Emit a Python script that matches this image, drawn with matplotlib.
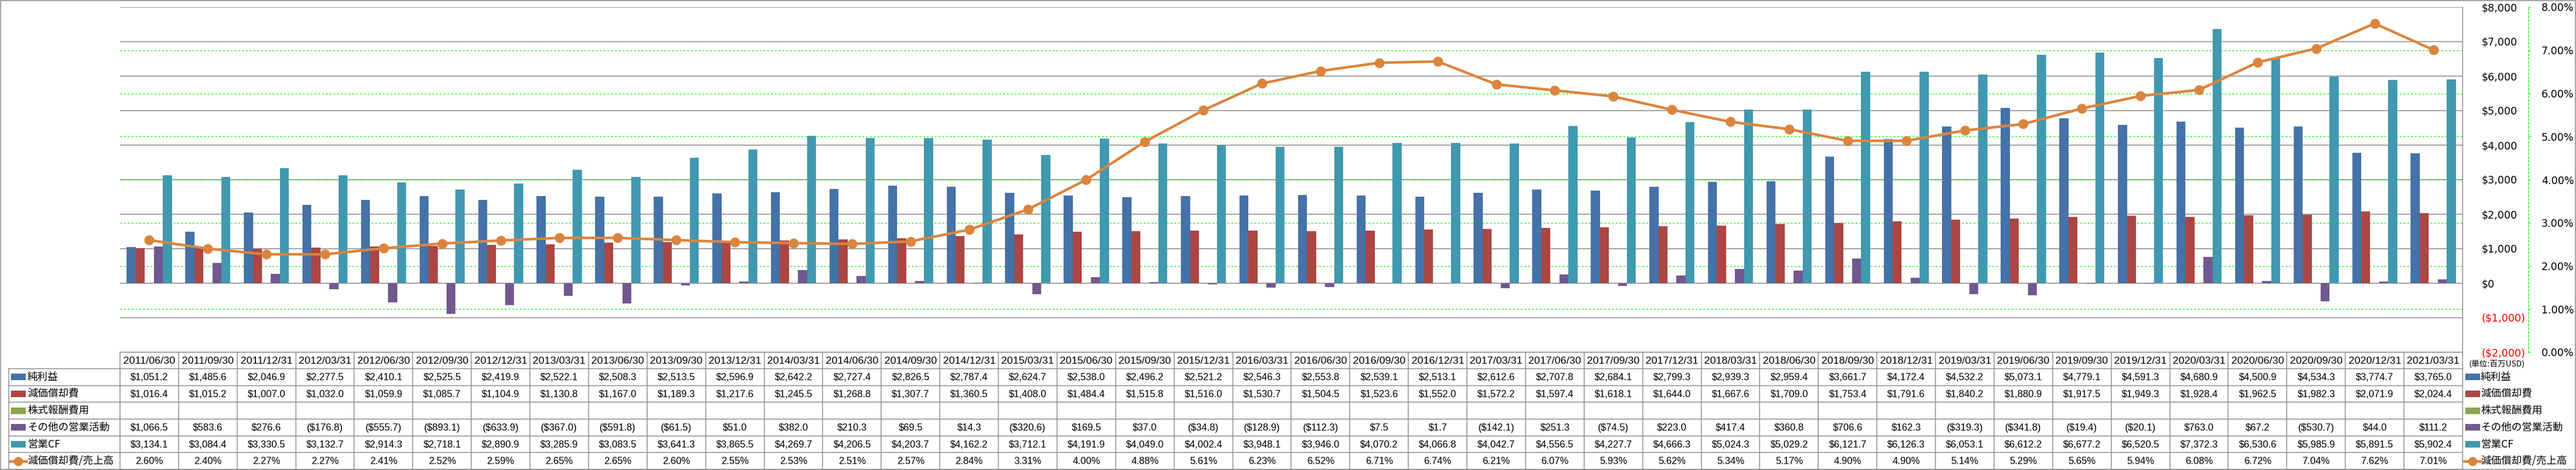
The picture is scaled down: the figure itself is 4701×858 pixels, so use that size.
import matplotlib
matplotlib.use('Agg')
import matplotlib.pyplot as plt
from matplotlib.patches import Rectangle
from matplotlib.lines import Line2D
import numpy as np

# quarterly data (million USD)
dates = ['2011/06/30', '2011/09/30', '2011/12/31',
         '2012/03/31', '2012/06/30', '2012/09/30', '2012/12/31',
         '2013/03/31', '2013/06/30', '2013/09/30', '2013/12/31',
         '2014/03/31', '2014/06/30', '2014/09/30', '2014/12/31',
         '2015/03/31', '2015/06/30', '2015/09/30', '2015/12/31',
         '2016/03/31', '2016/06/30', '2016/09/30', '2016/12/31',
         '2017/03/31', '2017/06/30', '2017/09/30', '2017/12/31',
         '2018/03/31', '2018/06/30', '2018/09/30', '2018/12/31',
         '2019/03/31', '2019/06/30', '2019/09/30', '2019/12/31',
         '2020/03/31', '2020/06/30', '2020/09/30', '2020/12/31',
         '2021/03/31']

net_income = [1051.2, 1485.6, 2046.9,
              2277.5, 2410.1, 2525.5, 2419.9,
              2522.1, 2508.3, 2513.5, 2596.9,
              2642.2, 2727.4, 2826.5, 2787.4,
              2624.7, 2538.0, 2496.2, 2521.2,
              2546.3, 2553.8, 2539.1, 2513.1,
              2612.6, 2707.8, 2684.1, 2799.3,
              2939.3, 2959.4, 3661.7, 4172.4,
              4532.2, 5073.1, 4779.1, 4591.3,
              4680.9, 4500.9, 4534.3, 3774.7,
              3765.0]

depreciation = [1016.4, 1015.2, 1007.0,
                1032.0, 1059.9, 1085.7, 1104.9,
                1130.8, 1167.0, 1189.3, 1217.6,
                1245.5, 1268.8, 1307.7, 1360.5,
                1408.0, 1484.4, 1515.8, 1516.0,
                1530.7, 1504.5, 1523.6, 1552.0,
                1572.2, 1597.4, 1618.1, 1644.0,
                1667.6, 1709.0, 1753.4, 1791.6,
                1840.2, 1880.9, 1917.5, 1949.3,
                1928.4, 1962.5, 1982.3, 2071.9,
                2024.4]

stock_comp = [None] * 40

other_ops = [1066.5, 583.6, 276.6,
             -176.8, -555.7, -893.1, -633.9,
             -367.0, -591.8, -61.5, 51.0,
             382.0, 210.3, 69.5, 14.3,
             -320.6, 169.5, 37.0, -34.8,
             -128.9, -112.3, 7.5, 1.7,
             -142.1, 251.3, -74.5, 223.0,
             417.4, 360.8, 706.6, 162.3,
             -319.3, -341.8, -19.4, -20.1,
             763.0, 67.2, -530.7, 44.0,
             111.2]

operating_cf = [3134.1, 3084.4, 3330.5,
                3132.7, 2914.3, 2718.1, 2890.9,
                3285.9, 3083.5, 3641.3, 3865.5,
                4269.7, 4206.5, 4203.7, 4162.2,
                3712.1, 4191.9, 4049.0, 4002.4,
                3948.1, 3946.0, 4070.2, 4066.8,
                4042.7, 4556.5, 4227.7, 4666.3,
                5024.3, 5029.2, 6121.7, 6126.3,
                6053.1, 6612.2, 6677.2, 6520.5,
                7372.3, 6530.6, 5985.9, 5891.5,
                5902.4]

dep_ratio = [2.60, 2.40, 2.27,
             2.27, 2.41, 2.52, 2.59,
             2.65, 2.65, 2.60, 2.55,
             2.53, 2.51, 2.57, 2.84,
             3.31, 4.00, 4.88, 5.61,
             6.23, 6.52, 6.71, 6.74,
             6.21, 6.07, 5.93, 5.62,
             5.34, 5.17, 4.90, 4.90,
             5.14, 5.29, 5.65, 5.94,
             6.08, 6.72, 7.04, 7.62,
             7.01]

bar_names = ['純利益', '減価償却費', '株式報酬費用', 'その他の営業活動', '営業CF']
bar_series = [net_income, depreciation, stock_comp, other_ops, operating_cf]
ratio_name = '減価償却費/売上高'
unit_text = '(単位:百万USD)'

colors = ['#4572A7', '#AA4643', '#89A54E', '#71588F', '#4198AF']
line_color = '#DB843D'
grid_gray = '#868686'
table_gray = '#8C8C8C'
green = '#00FF00'

CJK = 'Noto Sans CJK JP'
NUM = 'Liberation Sans'


def money(v, nd=1):
    if v is None:
        return ''
    s = '${:,.{}f}'.format(abs(v), nd)
    return '(' + s + ')' if v < 0 else s


W, H = 4701, 858
DPI = 100
fig = plt.figure(figsize=(W / DPI, H / DPI), dpi=DPI)
fig.patch.set_facecolor('white')

left, right, top, bottom = 219, 4494, 13, 643
ax = fig.add_axes([left / W, 1 - bottom / H, (right - left) / W, (bottom - top) / H])
ax2 = ax.twinx()

n = len(dates)
x = np.arange(n)
slot = 1 / 6.5
for k, (vals, c) in enumerate(zip(bar_series, colors)):
    if all(v is None for v in vals):
        continue
    v = np.array([np.nan if a is None else a for a in vals], float)
    ax.bar(x + (k - 2) * slot, v, width=slot, color=c, linewidth=0, zorder=2)

ax.set_xlim(-0.5, n - 0.5)
ax.set_ylim(-2000, 8000)
ax.set_xticks([])
yt = list(range(-2000, 8001, 1000))
ax.set_yticks(yt)
ax.set_yticklabels([money(v, 0) for v in yt])
ax.yaxis.tick_right()
ax.tick_params(axis='y', which='both', left=False, right=False,
               labelleft=False, labelright=True, length=0, pad=25, labelsize=13.5)
for lab, v in zip(ax.get_yticklabels(), yt):
    lab.set_color('#FF0000' if v < 0 else 'black')
ax.set_axisbelow(True)
ax.grid(axis='y', color=grid_gray, linewidth=1.1, zorder=0)
for s in ['top', 'left', 'bottom']:
    ax.spines[s].set_visible(False)
ax.spines['right'].set_color(grid_gray)
ax.spines['right'].set_linewidth(1.1)

ax2.set_ylim(0, 0.08)
pt = [i / 100 for i in range(0, 9)]
ax2.set_yticks(pt)
ax2.set_yticklabels(['{:.2f}%'.format(p * 100) for p in pt])
ax2.tick_params(axis='y', direction='out', length=3, width=1, color=green,
                labelcolor='black', pad=14, labelsize=13.5)
for s in ['top', 'left', 'bottom']:
    ax2.spines[s].set_visible(False)
ax2.spines['right'].set_position(('outward', 86.4))
ax2.spines['right'].set_color(green)
ax2.spines['right'].set_linestyle((0, (2.5, 2.5)))
ax2.spines['right'].set_linewidth(1)

# green dashed gridlines of the percent axis, behind the bars
lo, hi = ax2.get_ylim()
for p in pt[1:-1]:
    f = (p - lo) / (hi - lo)
    ax.plot([0, 1], [f, f], transform=ax.transAxes, color=green, lw=1,
            ls=(0, (2.5, 2.5)), zorder=1)

ax2.plot(x, np.array(dep_ratio) / 100, color=line_color, lw=3.4, marker='o',
         ms=12, mec=line_color, zorder=3)

# data table below the chart
tab = fig.add_axes([0, 0, 1, 1], zorder=5)
tab.set_xlim(0, W)
tab.set_ylim(H, 0)
tab.axis('off')

colw = (right - left) / n
head_top, head_bot = 643, 673
row_h = (857 - head_bot) / 6
lab_left = 16

tab.plot([left, right], [head_top, head_top], color=table_gray, lw=1.1)
for r in range(7):
    yy = head_bot + r * row_h
    tab.plot([lab_left, right], [yy, yy], color=table_gray, lw=1.1)
tab.plot([lab_left, lab_left], [head_bot, 857], color=table_gray, lw=1.1)
for i in range(n + 1):
    xx = left + i * colw
    tab.plot([xx, xx], [head_top, 857], color=table_gray, lw=1.1)

for i, d in enumerate(dates):
    tab.text(left + (i + 0.5) * colw, (head_top + head_bot) / 2 + 1, d,
             ha='center', va='center', fontsize=13.8, family=NUM)

rows = [[money(v) for v in s] for s in bar_series]
rows.append(['{:.2f}%'.format(v) for v in dep_ratio])
for r, vals in enumerate(rows):
    yc = head_bot + (r + 0.5) * row_h
    for i, t in enumerate(vals):
        tab.text(left + (i + 0.5) * colw, yc + 1, t, ha='center', va='center',
                 fontsize=12.8, family=NUM)


def legend_key(x0, yc, r):
    if r < len(colors):
        tab.add_patch(Rectangle((x0, yc - 6), 27, 12, color=colors[r], lw=0))
    else:
        tab.add_line(Line2D([x0 - 2, x0 + 28], [yc, yc], color=line_color, lw=3.4))
        tab.add_line(Line2D([x0 + 13], [yc], marker='o', ms=11, color=line_color))


names = bar_names + [ratio_name]
for r, nm in enumerate(names):
    yc = head_bot + (r + 0.5) * row_h
    legend_key(20, yc, r)
    tab.text(50, yc, nm, ha='left', va='center', fontsize=13.5, family=CJK)
    legend_key(4499, yc, r)
    tab.text(4527, yc, nm, ha='left', va='center', fontsize=13.5, family=CJK)

tab.text(4506, 665, unit_text, ha='left', va='center', fontsize=10.5, family=CJK)

tab.add_patch(Rectangle((1, 1), W - 2, H - 2, fill=False, edgecolor=grid_gray, lw=1.1))

fig.savefig('out.png', dpi=DPI)
